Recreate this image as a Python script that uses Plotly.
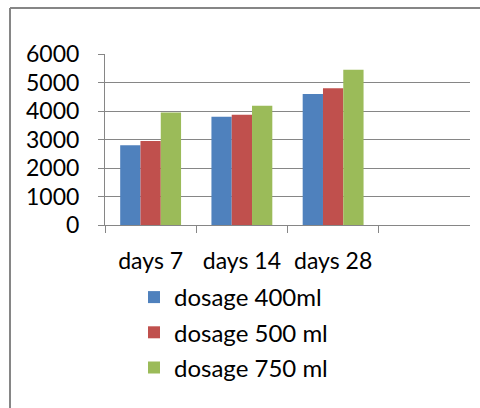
import plotly.graph_objects as go

categories = ["days 7", "days 14", "days 28"]
series_names = ["dosage 400ml", "dosage 500 ml", "dosage 750 ml"]
dosage_400 = [2800, 3800, 4600]
dosage_500 = [2950, 3870, 4800]
dosage_750 = [3950, 4180, 5450]
colors = ["#4F81BD", "#C0504D", "#9BBB59"]

FONT = "Lato"
W, H = 480, 408
L, R, T, B = 105, 10, 54, 183
pw, ph = W - L - R, H - T - B

fig = go.Figure()
for i, (name, vals) in enumerate(zip(series_names, [dosage_400, dosage_500, dosage_750])):
    fig.add_trace(go.Bar(x=categories, y=vals, name=name, marker_color=colors[i],
                         marker_line_width=0, legendgroup=name))

def px(xp):
    return (xp - L) / pw

def py(yp):
    return (H - B - yp) / ph

border = dict(color="#868686", width=2)
fig.update_layout(
    width=W, height=H,
    margin=dict(l=L, r=R, t=T, b=B),
    paper_bgcolor="white", plot_bgcolor="white",
    font=dict(family=FONT, size=23, color="black"),
    barmode="group", bargap=0.333, bargroupgap=0,
    showlegend=True,
    legend=dict(x=px(134), xanchor="left", y=py(275), yanchor="top",
                orientation="v", font=dict(size=24), tracegroupgap=1,
                bgcolor="rgba(0,0,0,0)"),
    xaxis=dict(type="category", range=[-0.5, 3.5], tickson="boundaries",
               ticks="outside", ticklen=7, tickcolor="#868686", tickwidth=1,
               showline=True, linecolor="#868686", linewidth=1,
               showgrid=False, ticklabelstandoff=15),
    yaxis=dict(range=[0, 6000], dtick=1000, ticks="outside", ticklen=6,
               tickcolor="#868686", showline=True, linecolor="#868686",
               linewidth=1, showgrid=True, gridcolor="#868686", gridwidth=1,
               zeroline=False, ticklabelstandoff=14),
    shapes=[
        dict(type="line", xref="paper", yref="paper",
             x0=px(10), x1=px(481), y0=py(8), y1=py(8), line=border, layer="below"),
        dict(type="line", xref="paper", yref="paper",
             x0=px(10), x1=px(10), y0=py(8), y1=py(409), line=border, layer="below"),
    ],
)

fig.write_html("out.html", config={"displayModeBar": False},
               post_script="document.body.style.margin='0';document.body.style.overflow='hidden';")
